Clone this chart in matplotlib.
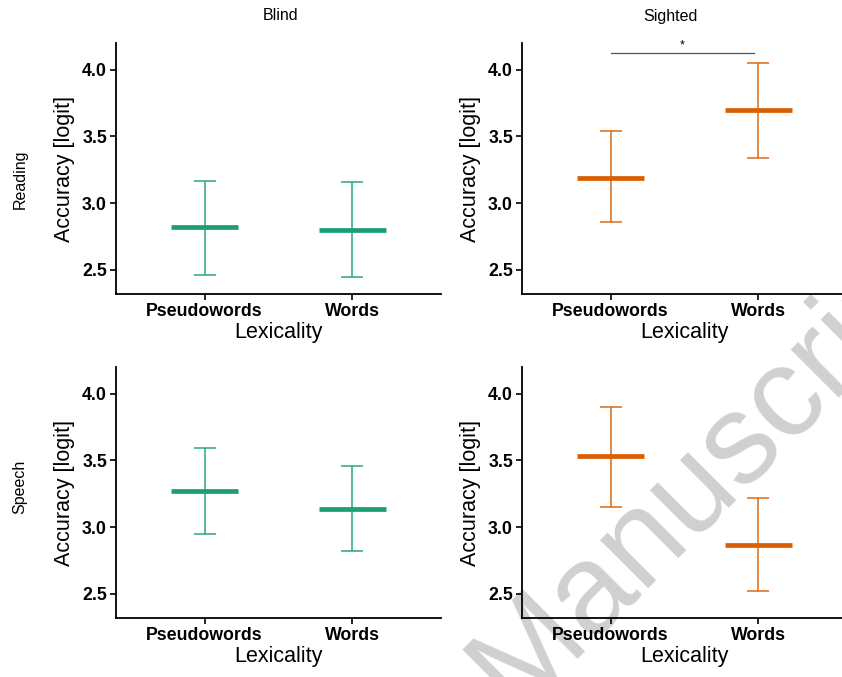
import matplotlib
matplotlib.use("Agg")
import matplotlib.pyplot as plt
import numpy as np

plt.rcParams['font.family'] = ['Liberation Sans', 'DejaVu Sans']

# estimated marginal means (logit) with 95% CI, order: Pseudowords, Words
LEXICALITY = ['Pseudowords', 'Words']
GROUPS = ['Blind', 'Sighted']
MODALITIES = ['Reading', 'Speech']
GROUP_COLORS = ['#1B9E77', '#D95F02']

reading_mean = [[2.82, 2.80], [3.19, 3.70]]
reading_lower = [[2.46, 2.45], [2.86, 3.34]]
reading_upper = [[3.17, 3.16], [3.54, 4.05]]

speech_mean = [[3.27, 3.14], [3.53, 2.87]]
speech_lower = [[2.95, 2.82], [3.15, 2.52]]
speech_upper = [[3.59, 3.46], [3.90, 3.22]]

# significant contrast: sighted readers, pseudowords vs words
sig_label = '*'
sig_height = 4.125

W, H = 842, 677
fig = plt.figure(figsize=(W / 100, H / 100), dpi=100)


def px_axes(left, top, width, height):
    # axes placed in pixel units from the top-left corner
    return fig.add_axes([left / W, 1 - (top + height) / H, width / W, height / H])


def draw_panel(ax, means, lower, upper, color):
    x = np.arange(1, len(LEXICALITY) + 1)
    means = np.array(means)
    lower = np.array(lower)
    upper = np.array(upper)
    ax.errorbar(x, means, yerr=[means - lower, upper - means], fmt='none',
                ecolor=color, alpha=0.85, elinewidth=1.2, capsize=7.8,
                capthick=1.2, zorder=2)
    ax.hlines(means, x - 0.225, x + 0.225, color=color, lw=3.4, zorder=3)
    ax.set_xlim(0.4, 2.6)
    ax.set_ylim(2.32, 4.2)
    ax.set_xticks(x)
    ax.set_xticklabels(LEXICALITY)
    ax.set_yticks([2.5, 3.0, 3.5, 4.0])
    ax.set_yticklabels(['2.5', '3.0', '3.5', '4.0'])
    for side in ['top', 'right']:
        ax.spines[side].set_visible(False)
    for side in ['left', 'bottom']:
        ax.spines[side].set_linewidth(1.3)
    ax.tick_params(length=4, width=1.2, labelsize=12.8, pad=2.5)
    for lab in ax.get_xticklabels() + ax.get_yticklabels():
        lab.set_fontweight('bold')
    ax.set_facecolor('none')
    ax.set_xlabel('Lexicality', fontsize=15.5)
    ax.set_ylabel('Accuracy [logit]', fontsize=15.5)
    ax.xaxis.set_label_coords(0.5, -0.155)
    ax.xaxis.label.set_va('center')
    ax.yaxis.set_label_coords(-0.158, 0.5)
    ax.yaxis.label.set_va('center')


# watermark across the lower right, drawn underneath the panels
fig.text(514 / W, 1 - 712 / H, 'Manuscript', rotation=45, rotation_mode='anchor',
         ha='left', va='baseline', fontsize=92, color='#d0d0d0', zorder=-1)

lefts = [116, 522]
tops = [43, 367]
data = [(reading_mean, reading_lower, reading_upper),
        (speech_mean, speech_lower, speech_upper)]

for r, (m, lo, hi) in enumerate(data):
    for c in range(2):
        ax = px_axes(lefts[c], tops[r], 325, 251)
        draw_panel(ax, m[c], lo[c], hi[c], GROUP_COLORS[c])
        if r == 0 and c == 1:
            ax.plot([1.0, 1.97], [sig_height, sig_height], color='#555555',
                    lw=0.9, clip_on=False)
            ax.text(1.485, sig_height + 0.015, sig_label, ha='center',
                    va='bottom', fontsize=9, clip_on=False)

# facet strip labels
fig.text(281 / W, 1 - 16 / H, GROUPS[0], ha='center', va='center', fontsize=11.5)
fig.text(670 / W, 1 - 16 / H, GROUPS[1], ha='center', va='center', fontsize=11.5)
fig.text(20 / W, 1 - 179 / H, MODALITIES[0], ha='center', va='center',
         rotation=90, fontsize=11.5)
fig.text(20 / W, 1 - 487 / H, MODALITIES[1], ha='center', va='center',
         rotation=90, fontsize=11.5)

fig.savefig('out.png', dpi=100)
